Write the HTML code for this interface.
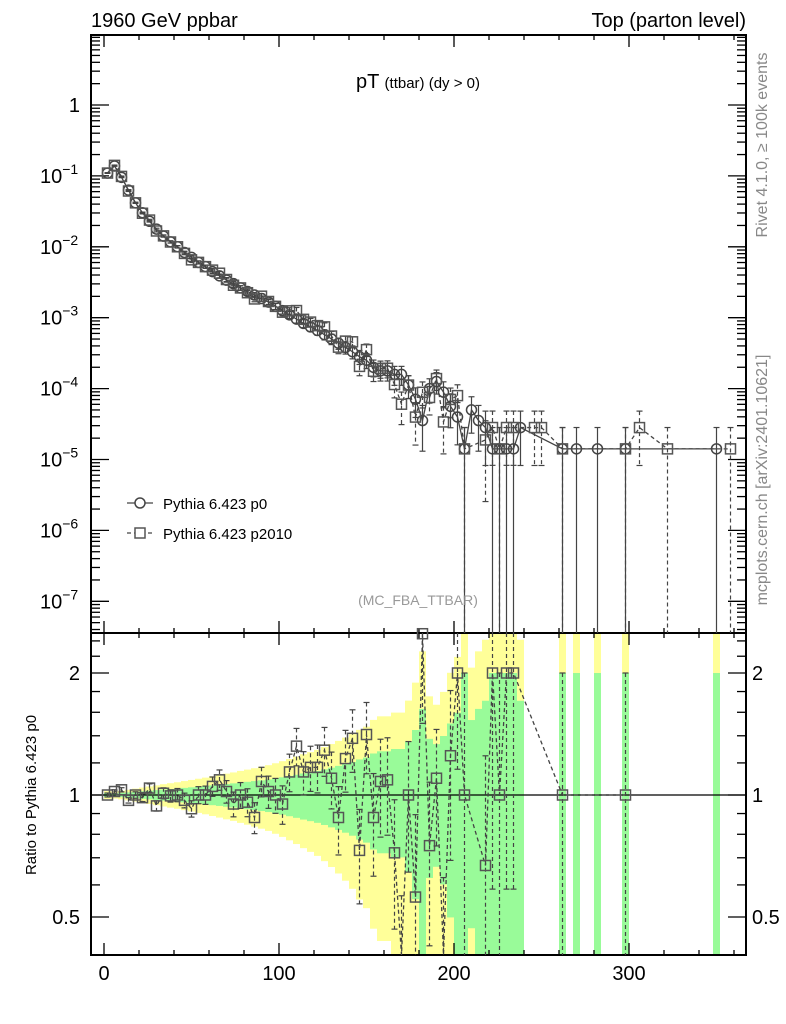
<!DOCTYPE html>
<html><head><meta charset="utf-8"><style>
body{margin:0;background:#fff}
svg{display:block;font-family:"Liberation Sans",sans-serif}
</style></head><body>
<svg id="chart" width="786" height="1024" viewBox="0 0 786 1024" xmlns="http://www.w3.org/2000/svg">
<g id="bands"></g>
<g id="grid"></g>
<g id="series"></g>
<text x="91" y="27" font-size="20">1960 GeV ppbar</text>
<text x="746" y="27" font-size="20" text-anchor="end">Top (parton level)</text>
<text x="418" y="88" font-size="20" text-anchor="middle">pT <tspan font-size="15">(ttbar) (dy &gt; 0)</tspan></text>
<text x="418" y="605" font-size="14" fill="#999" text-anchor="middle">(MC_FBA_TTBAR)</text>
<text transform="translate(767,145) rotate(-90)" font-size="16" fill="#888" text-anchor="middle">Rivet 4.1.0, ≥ 100k events</text>
<text transform="translate(767,480) rotate(-90)" font-size="16" fill="#888" text-anchor="middle">mcplots.cern.ch [arXiv:2401.10621]</text>
<text transform="translate(36,795) rotate(-90)" font-size="15" text-anchor="middle">Ratio to Pythia 6.423 p0</text>
<g>
<g>
<line x1="127" y1="503" x2="153" y2="503" stroke="#444" stroke-width="1.3"/>
<circle cx="140" cy="503" r="5" fill="#fff" stroke="#444" stroke-width="1.5"/>
<text x="163" y="509" font-size="15">Pythia 6.423 p0</text></g>
<g>
<line x1="127" y1="533" x2="153" y2="533" stroke="#444" stroke-width="1.3" stroke-dasharray="4,3"/>
<rect x="135" y="528" width="10" height="10" fill="#fff" stroke="#555" stroke-width="1.5"/>
<text x="163" y="539" font-size="15">Pythia 6.423 p2010</text></g>
</g>
</svg>
<script>
// ---- data ----
const binCenters = [2,6,10,14,18,22,26,30,34,38,42,46,50,54,58,62,66,70,74,78,82,86,90,94,98,102,106,110,114,118,122,126,130,134,138,142,146,150,154,158,162,166,170,174,178,182,186,190,194,198,202,206,210,214,218,222,226,230,234,238,242,246,250,254,258,262,266,270,274,278,282,286,290,294,298,302,306,310,314,318,322,326,330,334,338,342,346,350,354,358];
const p0Log = [-0.96,-0.86,-1.02,-1.2,-1.38,-1.52,-1.64,-1.75,-1.85,-1.93,-2.0,-2.08,-2.15,-2.22,-2.28,-2.35,-2.41,-2.47,-2.52,-2.58,-2.63,-2.68,-2.73,-2.78,-2.84,-2.9,-2.96,-3.02,-3.08,-3.13,-3.18,-3.24,-3.3,-3.36,-3.42,-3.48,-3.55,-3.6,-3.7,-3.75,-3.75,-3.8,-3.8,-3.95,-4.15,-4.45,-4.0,-3.9,-4.05,-4.25,-4.4,-4.85,-4.3,-4.45,-4.55,-4.85,-4.85,-4.85,-4.85,-4.55,null,null,null,null,null,-4.85,null,-4.85,null,null,-4.85,null,null,null,-4.85,null,null,null,null,null,null,null,null,null,null,null,null,-4.85,null,null];
const ratioP2010 = [1.0,1.02,1.03,0.97,1.0,0.985,1.04,0.94,1.01,0.995,1.0,0.97,0.925,1.0,1.0,1.05,1.09,1.02,0.95,1.0,0.96,0.88,1.08,1.02,1.0,0.95,1.14,1.32,1.14,1.17,1.17,1.29,1.1,0.88,1.23,1.38,0.73,1.41,0.88,1.08,1.09,0.72,0.38,1.0,0.56,2.5,0.75,1.1,0.38,1.25,2.0,1.0,null,null,0.67,2.0,1.0,2.0,2.0,null,null,null,null,null,null,1.0,null,null,null,null,null,null,null,null,1.0,null,null,null,null,null,null,null,null,null,null,null,null,null,null,null];
const p2010OnlyLog = {246:-4.55,250:-4.55,306:-4.55,322:-4.85,358:-4.85};
const xTicks = [0,100,200,300];
const yMainTicks = [0,-1,-2,-3,-4,-5,-6,-7];
const yRatioTicks = [0.5,1,2];

// ---- axes ----
const NS="http://www.w3.org/2000/svg";
const L=91,R=746,T=35,M=633,B=955;
const X=v=>104+1.75*v;
const Ym=l=>105-70.9*l;
const Yr=r=>795-122*Math.log2(r);
const clampM=y=>Math.max(T,Math.min(M,y));
const clampR=y=>Math.max(M,Math.min(B,y));
function mk(tag,attrs,parent){const e=document.createElementNS(NS,tag);for(const k in attrs)e.setAttribute(k,attrs[k]);parent.appendChild(e);return e;}
const grid=document.getElementById('grid'),series=document.getElementById('series'),bands=document.getElementById('bands');

const p0=p0Log.map(l=>l===null?null:Math.pow(10,l));
const p2=binCenters.map((c,i)=>{
  if(p0[i]!==null&&ratioP2010[i]!==null)return p0[i]*ratioP2010[i];
  if(p2010OnlyLog[c]!==undefined)return Math.pow(10,p2010OnlyLog[c]);
  return null;});
const N=v=>v*Math.pow(10,4.85);

// bands
binCenters.forEach((c,i)=>{
  if(p0[i]===null)return;
  const e=1/Math.sqrt(N(p0[i]));
  [[2*e,'#ffff99','yellow'],[e,'#99fb99','green']].forEach(([w,col,nm])=>{
    const lo=1-w, hi=1+w;
    const y1=clampR(Yr(hi)), y2=lo<=0?B:clampR(Yr(lo));
    const r=mk('rect',{x:X(c-2),y:y1,width:1.75*4,height:y2-y1,fill:col},bands);
    
    
  });
});
[...bands.querySelectorAll('rect[fill="#99fb99"]')].forEach(r=>bands.appendChild(r));

const f1=mk('rect',{x:L,y:T,width:R-L,height:M-T,fill:'none',stroke:'#000','stroke-width':2},grid);


const f2=mk('rect',{x:L,y:M,width:R-L,height:B-M,fill:'none',stroke:'#000','stroke-width':2},grid);


const one=mk('line',{x1:L,x2:R,y1:Yr(1),y2:Yr(1),stroke:'#000','stroke-width':1.3},grid);



for(let v=0;v<=360;v+=20){
  const major=v%100===0, len=major?12:5;
  [[T,1],[M,-1],[M,1],[B,-1]].forEach(([y0,d])=>mk('line',{x1:X(v),x2:X(v),y1:y0,y2:y0+d*len,stroke:'#000','stroke-width':1.3},grid));
}
xTicks.forEach(v=>{const t=mk('text',{x:X(v),y:980,'font-size':20,'text-anchor':'middle'},grid);t.textContent=v;
  
  });

for(let d=1;d>=-8;d--){for(let m=1;m<10;m++){const y=Ym(d+Math.log10(m));if(y<T||y>M)continue;const len=m===1?18:9;
  mk('line',{x1:L,x2:L+len,y1:y,y2:y,stroke:'#000','stroke-width':1.3},grid);
  mk('line',{x1:R,x2:R-len,y1:y,y2:y,stroke:'#000','stroke-width':1.3},grid);}}
yMainTicks.forEach(l=>{let t;
  if(l===0){t=mk('text',{x:80,y:Ym(l)+7,'font-size':20,'text-anchor':'end'},grid);t.textContent='1';}
  else{t=mk('text',{x:40,y:Ym(l)+7,'font-size':20,'text-anchor':'start'},grid);t.textContent='10';const s=mk('tspan',{'font-size':14,dy:-9},t);s.textContent=String(l).replace('-','−');}
  
  });

const rt=[0.4,0.5,0.6,0.7,0.8,0.9,1,1.2,1.4,1.6,1.8,2,2.2,2.4];
rt.forEach(r=>{const y=Yr(r);if(y<M||y>B)return;const len=yRatioTicks.includes(r)?18:9;
  mk('line',{x1:L,x2:L+len,y1:y,y2:y,stroke:'#000','stroke-width':1.3},grid);
  mk('line',{x1:R,x2:R-len,y1:y,y2:y,stroke:'#000','stroke-width':1.3},grid);});
yRatioTicks.forEach(r=>{[[80,'end'],[752,'start']].forEach(([x,a])=>{const t=mk('text',{x:x,y:Yr(r)+7,'font-size':20,'text-anchor':a},grid);t.textContent=r;
  
  });});

function drawSeries(vals,dash,marker,name){
  const g=mk('g',{},series);
  
  
  let pts=[];binCenters.forEach((c,i)=>{if(vals[i]!==null)pts.push([X(c),Ym(Math.log10(vals[i])),vals[i]]);});
  mk('polyline',{points:pts.map(p=>p[0]+','+p[1]).join(' '),fill:'none',stroke:'#444','stroke-width':1.3,'stroke-dasharray':dash},g);
  pts.forEach(([x,y,v])=>{const e=1/Math.sqrt(N(v));const hi=clampM(Ym(Math.log10(v*(1+e))));const lo=e>=0.999?M:clampM(Ym(Math.log10(v*(1-e))));
    mk('line',{x1:x,x2:x,y1:hi,y2:lo,stroke:'#444','stroke-width':1.2,'stroke-dasharray':dash},g);
    mk('line',{x1:x-3,x2:x+3,y1:hi,y2:hi,stroke:'#444','stroke-width':1.2},g);
    if(lo<M)mk('line',{x1:x-3,x2:x+3,y1:lo,y2:lo,stroke:'#444','stroke-width':1.2},g);
    let m;
    if(marker==='c')m=mk('circle',{cx:x,cy:y,r:5,fill:'none',stroke:'#444','stroke-width':1.5},g);
    else m=mk('rect',{x:x-5,y:y-5,width:10,height:10,fill:'none',stroke:'#555','stroke-width':1.5},g);
    
    
  });
}
drawSeries(p0,'','c','series-p0');
drawSeries(p2,'4,3','s','series-p2010');

const rg=mk('g',{},series);


let rp=[];binCenters.forEach((c,i)=>{if(p0[i]!==null&&p2[i]!==null){const r=p2[i]/p0[i];rp.push([X(c),Yr(r),r,p2[i]]);}});
mk('polyline',{points:rp.map(p=>p[0]+','+Math.max(M,Math.min(B,p[1]))).join(' '),fill:'none',stroke:'#444','stroke-width':1.3,'stroke-dasharray':'4,3'},rg);
rp.forEach(([x,y,r,v])=>{const e=1/Math.sqrt(N(v));const hi=clampR(Yr(r*(1+e)));const lo=e>=0.999?B:clampR(Yr(r*(1-e)));
  mk('line',{x1:x,x2:x,y1:hi,y2:lo,stroke:'#444','stroke-width':1.2,'stroke-dasharray':'4,3'},rg);
  if(hi>M)mk('line',{x1:x-3,x2:x+3,y1:hi,y2:hi,stroke:'#444','stroke-width':1.2},rg);
  if(lo<B)mk('line',{x1:x-3,x2:x+3,y1:lo,y2:lo,stroke:'#444','stroke-width':1.2},rg);
  if(y>=M-2&&y<=B){const m=mk('rect',{x:x-5,y:y-5,width:10,height:10,fill:'none',stroke:'#555','stroke-width':1.5},rg);
    
    }
});
</script>
</body></html>
